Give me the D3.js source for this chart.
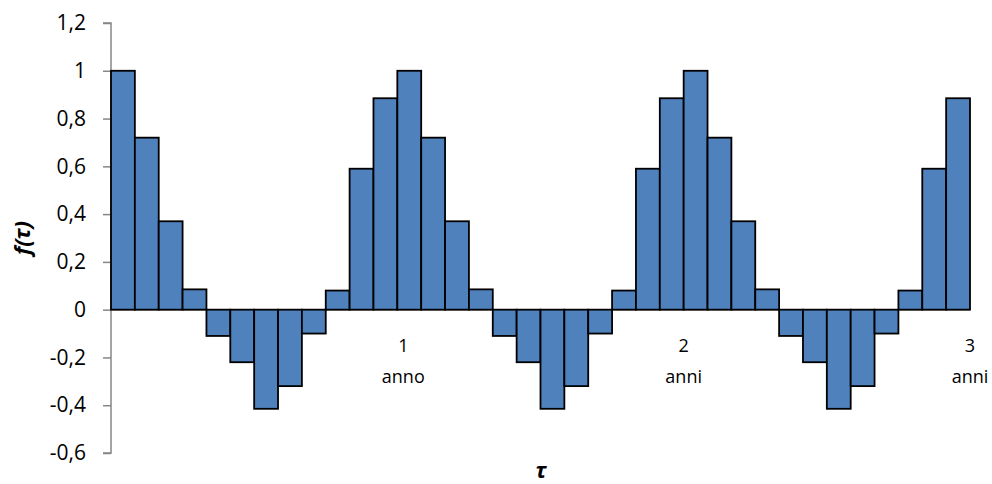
<!DOCTYPE html>
<html><head><meta charset="utf-8">
<script src="https://cdn.jsdelivr.net/npm/d3@7"></script>
<style>body{margin:0;background:#fff}svg{display:block}</style>
</head><body>
<svg id="c" width="992" height="484"></svg>
<script>
const values = [1, 0.72, 0.37, 0.085, -0.11, -0.22, -0.415, -0.32, -0.1, 0.08, 0.59, 0.885,
                1, 0.72, 0.37, 0.085, -0.11, -0.22, -0.415, -0.32, -0.1, 0.08, 0.59, 0.885,
                1, 0.72, 0.37, 0.085, -0.11, -0.22, -0.415, -0.32, -0.1, 0.08, 0.59, 0.885];
const yTicks = [-0.6, -0.4, -0.2, 0, 0.2, 0.4, 0.6, 0.8, 1, 1.2];
const periodLabels = [["1", "anno"], ["2", "anni"], ["3", "anni"]];
const periodPos = [12.25, 24, 36];

const svg = d3.select("#c");
const x = d3.scaleLinear().domain([0, values.length]).range([111, 970]);
const y = d3.scaleLinear().domain([-0.6, 1.2]).range([453, 23]);
const font = "'Open Sans', Carlito, sans-serif";

// y axis
const ya = svg.append("g").attr("transform", "translate(111,0)")
  .call(d3.axisLeft(y).tickValues(yTicks).tickSize(8).tickPadding(17)
    .tickFormat(d => d3.format(".1~f")(d).replace(".", ",").replace("\u2212", "-")));
ya.selectAll("path,line").attr("stroke", "#868686").attr("stroke-width", 1.5);
ya.select(".domain").attr("d", `M-8,${y(1.2)}H0V${y(-0.6)}H-8`);
ya.selectAll("text").attr("font-family", font).attr("font-size", 21).attr("fill", "#000");

// x axis line at 0
svg.append("line").attr("x1", 111).attr("x2", 970).attr("y1", y(0)).attr("y2", y(0))
  .attr("stroke", "#868686").attr("stroke-width", 1.5);

// bars
svg.append("g").selectAll("rect").data(values).join("rect")
  .attr("x", (d, i) => x(i))
  .attr("width", (d, i) => x(i + 1) - x(i))
  .attr("y", d => y(Math.max(0, d)))
  .attr("height", d => Math.abs(y(d) - y(0)))
  .attr("fill", "#4F81BD").attr("stroke", "#000").attr("stroke-width", 1.8);

// period labels
const pl = svg.append("g").selectAll("text").data(periodLabels).join("text")
  .attr("font-family", font).attr("font-size", 18).attr("text-anchor", "middle")
  .attr("fill", "#000");
pl.append("tspan").attr("x", (d, i) => x(periodPos[i])).attr("y", 352).text(d => d[0]);
pl.append("tspan").attr("x", (d, i) => x(periodPos[i])).attr("y", 383).text(d => d[1]);

// axis titles
svg.append("text").attr("x", 541).attr("y", 478).attr("text-anchor", "middle")
  .attr("font-family", font).attr("font-size", 22).attr("font-weight", "bold")
  .attr("font-style", "italic").text("τ");
svg.append("text").attr("transform", "translate(30,238) rotate(-90)")
  .attr("text-anchor", "middle").attr("font-family", font).attr("font-size", 22)
  .attr("font-weight", "bold").attr("font-style", "italic").text("f(τ)");
</script>
</body></html>
